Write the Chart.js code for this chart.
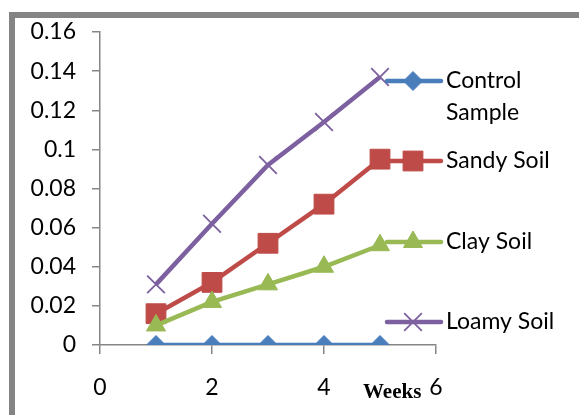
<!DOCTYPE html>
<html>
<head>
<meta charset="utf-8">
<script src="https://cdn.jsdelivr.net/npm/chart.js@4/dist/chart.umd.min.js"></script>
<style>
  html, body { margin: 0; padding: 0; background: #fff; }
  #wrap { width: 579px; height: 415px; position: relative; }
</style>
</head>
<body>
<div id="wrap"><canvas id="c" width="579" height="415"></canvas></div>
<script>
// Weeks of measurement
const weeks = [1, 2, 3, 4, 5];

// Measured values per sample
const controlSample = [0, 0, 0, 0, 0];
const sandySoil     = [0.016, 0.032, 0.052, 0.072, 0.095];
const claySoil      = [0.010, 0.022, 0.031, 0.040, 0.051];
const loamySoil     = [0.031, 0.062, 0.092, 0.114, 0.137];

const seriesNames = ['Control Sample', 'Sandy Soil', 'Clay Soil', 'Loamy Soil'];
const xTicks = [0, 2, 4, 6];
const yTicks = [0, 0.02, 0.04, 0.06, 0.08, 0.1, 0.12, 0.14, 0.16];

const FONT = 'Lato, "Open Sans", sans-serif';
const FONT_SIZE = 23;
const AXIS = '#868686';

const styles = [
  { color: '#4A7EBB', pointStyle: 'rectRot', radius: 9.5, pointBorderWidth: 1 },
  { color: '#BE4B48', pointStyle: 'rect', radius: 14, pointBorderWidth: 1 },
  { color: '#98B954', pointStyle: 'triangle', radius: 11, pointBorderWidth: 1 },
  { color: '#7D60A0', pointStyle: 'crossRot', radius: 12.5, pointBorderWidth: 1.8 }
];

const values = [controlSample, sandySoil, claySoil, loamySoil];

const datasets = values.map((vals, i) => ({
  label: seriesNames[i],
  data: weeks.map((w, j) => ({ x: w, y: vals[j] })),
  borderColor: styles[i].color,
  backgroundColor: styles[i].color,
  pointBackgroundColor: styles[i].color,
  pointBorderColor: styles[i].color,
  pointStyle: styles[i].pointStyle,
  pointRadius: styles[i].radius,
  pointBorderWidth: styles[i].pointBorderWidth,
  borderWidth: 4.5,
  tension: 0,
  order: 3 - i
}));

// Page frame (thick gray top and left edges)
const framePlugin = {
  id: 'frame',
  beforeDraw(chart) {
    const ctx = chart.ctx;
    ctx.save();
    ctx.fillStyle = '#fff';
    ctx.fillRect(0, 0, chart.width, chart.height);
    ctx.strokeStyle = '#848484';
    ctx.lineWidth = 6;
    ctx.beginPath();
    ctx.moveTo(12, chart.height + 10);
    ctx.lineTo(12, 15);
    ctx.lineTo(chart.width + 10, 15);
    ctx.stroke();
    ctx.restore();
  }
};

// Legend on the right side plus the "Weeks" caption
const sideLegend = {
  id: 'sideLegend',
  afterDraw(chart) {
    const ctx = chart.ctx;
    const area = chart.chartArea;
    const lineX0 = area.right - 49;
    const lineX1 = area.right + 5;
    const markX = area.right - 23;
    const textX = area.right + 10;
    const rows = [
      { y: area.top + 49, lines: ['Control', 'Sample'] },
      { y: area.top + 129, lines: ['Sandy Soil'] },
      { y: area.top + 210, lines: ['Clay Soil'] },
      { y: area.top + 290, lines: ['Loamy Soil'] }
    ];
    ctx.save();
    rows.forEach((r, i) => {
      const st = styles[i];
      ctx.strokeStyle = st.color;
      ctx.fillStyle = st.color;
      ctx.lineWidth = 4.5;
      ctx.lineCap = 'round';
      ctx.beginPath();
      ctx.moveTo(lineX0, r.y);
      ctx.lineTo(lineX1, r.y);
      ctx.stroke();
      ctx.lineCap = 'butt';
      ctx.lineWidth = st.pointBorderWidth;
      Chart.helpers.drawPoint(ctx, {
        pointStyle: st.pointStyle, radius: st.radius, rotation: 0,
        borderWidth: st.pointBorderWidth
      }, markX, r.y);
      ctx.fillStyle = '#000';
      ctx.font = FONT_SIZE + 'px ' + FONT;
      ctx.textAlign = 'left';
      ctx.textBaseline = 'middle';
      r.lines.forEach((t, k) => ctx.fillText(t, textX, r.y + k * 32));
    });
    ctx.fillStyle = '#000';
    ctx.font = 'bold 21px "Liberation Serif", "Times New Roman", serif';
    ctx.textAlign = 'left';
    ctx.textBaseline = 'alphabetic';
    ctx.fillText('Weeks', area.right - 73, area.bottom + 53);
    ctx.restore();
  }
};

new Chart(document.getElementById('c'), {
  type: 'line',
  data: { datasets },
  options: {
    responsive: false,
    animation: false,
    devicePixelRatio: 1,
    layout: { padding: { left: 0, top: 32, right: 143, bottom: 0 } },
    plugins: { legend: { display: false }, tooltip: { enabled: false } },
    scales: {
      x: {
        type: 'linear',
        min: 0, max: 6,
        afterBuildTicks(scale) { scale.ticks = xTicks.map(v => ({ value: v })); },
        afterFit(scale) { scale.height = 70; },
        grid: { display: true, drawOnChartArea: false, drawTicks: true, tickLength: 9, color: AXIS, lineWidth: 1.5 },
        border: { display: true, color: AXIS, width: 1.5 },
        ticks: { color: '#000', font: { family: FONT, size: FONT_SIZE }, padding: 20, maxRotation: 0, autoSkip: false }
      },
      y: {
        min: 0, max: 0.16,
        afterBuildTicks(scale) { scale.ticks = yTicks.map(v => ({ value: v })); },
        afterFit(scale) { scale.width = 100; },
        grid: { display: true, drawOnChartArea: false, drawTicks: true, tickLength: 8, color: AXIS, lineWidth: 1.5 },
        border: { display: true, color: AXIS, width: 1.5 },
        ticks: { color: '#000', font: { family: FONT, size: FONT_SIZE }, padding: 16, autoSkip: false,
                 callback: v => String(Math.round(v * 100) / 100) }
      }
    }
  },
  plugins: [framePlugin, sideLegend]
});
</script>
</body>
</html>
